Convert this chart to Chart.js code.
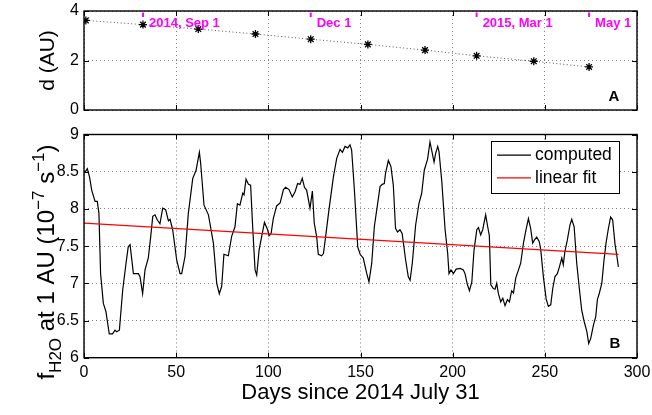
<!DOCTYPE html>
<html>
<script src="https://cdn.jsdelivr.net/npm/chart.js@4.4.0/dist/chart.umd.min.js"></script>
<body style="margin:0;background:#fff">
<div style="position:relative;width:652px;height:415px">
<canvas id="chartA" width="652" height="125" style="position:absolute;left:0;top:0"></canvas>
<canvas id="chartB" width="652" height="290" style="position:absolute;left:0;top:125px"></canvas>
</div>
<script>
// panel A: heliocentric distance on the 1st of each month
const monthDays = [1, 32, 62, 93, 123, 154, 185, 213, 244, 274];
const distAU = [3.62, 3.45, 3.27, 3.07, 2.86, 2.65, 2.42, 2.19, 1.97, 1.74];
const dateMarks = [32, 123, 213, 274];
const dateLabels = ["2014, Sep 1", "Dec 1", "2015, Mar 1", "May 1"];

// panel B: production rate at 1 AU
const days = [0.5, 1.8, 3, 4.2, 6, 7.2, 8.1, 9, 10.5, 11.9, 13.7, 15.5, 16.8, 17.7, 19.2, 21, 22.8, 24, 25, 26.8,
  29.5, 30.4, 31.8, 33.1, 34.9, 36.2, 37.3, 38.5, 39.8, 41.2, 42.7, 44.3, 45.8, 46.7, 48.1, 50.3, 52.1, 53, 54.8, 56.6,
  59, 60.8, 62.6, 63.3, 65.1, 67.5, 70.2, 72, 73.4, 74.7, 75.9, 78.3, 80.1, 81.9, 83.2, 84.6, 86.1, 86.8, 87.9, 89.2,
  90.4, 91.5, 92.8, 93.7, 95, 96.4, 97.9, 99.6, 100.4, 101.5, 102.7, 104.5, 106.4, 108.2, 109.4, 111.2, 113, 114.5, 115.9, 117.2,
  118.4, 119.6, 120.8, 122.6, 123.9, 124.9, 126.2, 127.1, 128.9, 129.9, 131.1, 132.9, 135.3, 137.1, 138.9, 140.2, 141.6, 143.1, 144.3, 145.2,
  146.7, 148.5, 149.8, 151.5, 153.4, 154.6, 156.1, 157.5, 159.3, 160.6, 161.8, 162.9, 163.6, 165.1, 166.5, 167.8, 169, 170.1, 171.4, 172.6,
  174.5, 175.9, 176.9, 178.1, 179.9, 181.7, 183.2, 184.6, 186.4, 187.7, 188.6, 189.9, 190.8, 191.9, 192.6, 194.1, 195.9, 197.3, 198, 199.1,
  200.4, 201.9, 204.1, 205.8, 206.7, 208, 209.1, 210.4, 211.6, 213.1, 214, 215.2, 216.3, 217.9, 219, 219.9, 220.7, 222.1, 223, 223.9,
  224.8, 226.1, 227.2, 228.4, 229.7, 230.8, 232, 233, 234.2, 235.7, 236.9, 238.4, 239.8, 241.1, 242.3, 243.4, 244.3, 245.6, 247, 247.8,
  249.2, 250.7, 251.9, 253.2, 254.3, 255.5, 256.8, 257.9, 259.2, 260, 260.9, 262.2, 263.6, 264.6, 265.9, 267.3, 268.8, 270, 271.3, 272.8,
  273.8, 274.9, 276.4, 277.6, 278.5, 279.6, 280.9, 282.1, 283.2, 284.5, 285.7, 286.8, 288.1, 289, 289.9];
const flux = [8.49, 8.54, 8.43, 8.25, 8.10, 8.10, 7.94, 7.13, 6.73, 6.62, 6.32, 6.32, 6.37, 6.35, 6.37, 6.91, 7.27, 7.49, 7.52, 7.13,
  7.13, 7.09, 6.86, 7.18, 7.34, 7.63, 7.90, 7.92, 7.85, 7.80, 8.01, 7.99, 7.84, 7.86, 7.72, 7.31, 7.13, 7.13, 7.36, 7.94,
  8.41, 8.52, 8.76, 8.61, 8.05, 7.92, 7.54, 7.00, 6.86, 6.96, 7.39, 7.37, 7.63, 7.76, 8.07, 8.05, 8.21, 8.19, 8.40, 8.33,
  8.32, 7.76, 7.18, 7.11, 7.45, 7.63, 7.82, 7.72, 7.64, 7.67, 7.87, 8.04, 8.08, 8.26, 8.29, 8.26, 8.16, 8.23, 8.34, 8.33,
  8.41, 8.29, 8.25, 8.01, 8.24, 7.81, 7.63, 7.39, 7.37, 7.40, 7.63, 7.99, 8.43, 8.68, 8.80, 8.76, 8.84, 8.82, 8.86, 8.79,
  8.25, 7.49, 7.39, 7.34, 7.13, 7.02, 7.27, 7.76, 8.07, 8.30, 8.33, 8.34, 8.48, 8.65, 8.57, 8.32, 7.74, 7.69, 7.72, 7.67,
  7.31, 7.09, 7.04, 7.27, 7.78, 8.07, 8.21, 8.52, 8.67, 8.90, 8.79, 8.63, 8.75, 8.84, 8.77, 8.37, 7.72, 7.40, 7.13, 7.18,
  7.13, 7.19, 7.20, 7.18, 7.13, 6.98, 6.90, 7.02, 7.45, 7.72, 7.75, 7.65, 7.72, 7.92, 7.76, 7.64, 6.98, 6.93, 6.92, 7.00,
  6.86, 6.75, 6.80, 6.70, 6.78, 6.75, 6.90, 6.87, 7.07, 7.18, 7.27, 7.54, 7.72, 7.87, 7.74, 7.54, 7.58, 7.62, 7.56, 7.45,
  7.09, 6.79, 6.69, 6.71, 6.93, 7.09, 7.13, 7.22, 7.34, 7.25, 7.43, 7.58, 7.78, 7.86, 7.76, 7.27, 6.91, 6.64, 6.49, 6.35,
  6.19, 6.26, 6.44, 6.55, 6.78, 6.87, 7.00, 7.31, 7.54, 7.74, 7.89, 7.85, 7.52, 7.38, 7.22];
const fitDays = [0, 290];
const fitFlux = [7.81, 7.39];

const FONT = "'Liberation Sans', Arial, Helvetica, sans-serif";
Chart.defaults.font.family = FONT;
Chart.defaults.font.size = 16;
Chart.defaults.color = "#000";
Chart.defaults.animation = false;

const gridColor = "rgba(0,0,0,0.5)";

function xScale(showTicks) {
  return {
    type: "linear", min: 0, max: 300,
    ticks: { display: showTicks, stepSize: 50, padding: 5, maxRotation: 0 },
    grid: { color: gridColor, lineWidth: 1, drawTicks: false },
    border: { display: false, dash: [1, 3] },
    afterFit: s => {
      s.height = showTicks ? 57.3 : 0;
      s.paddingLeft = 0; s.paddingRight = 0;
    }
  };
}
function yScale(min, max, step) {
  return {
    min: min, max: max,
    ticks: { stepSize: step, padding: 5, callback: v => String(v) },
    grid: { color: gridColor, lineWidth: 1, drawTicks: false },
    border: { display: false, dash: [1, 3] },
    afterFit: s => {
      s.width = 84;
      s.paddingTop = 0; s.paddingBottom = 0;
    }
  };
}

// box + inward ticks like matlab
function drawFrame(chart) {
  const ctx = chart.ctx, a = chart.chartArea;
  const sx = chart.scales.x, sy = chart.scales.y;
  ctx.save();
  ctx.strokeStyle = "#000";
  ctx.lineWidth = 1;
  ctx.beginPath();
  sx.ticks.forEach(t => {
    const px = Math.round(sx.getPixelForValue(t.value)) + 0.5;
    ctx.moveTo(px, a.bottom); ctx.lineTo(px, a.bottom - 5);
    ctx.moveTo(px, a.top); ctx.lineTo(px, a.top + 5);
  });
  sy.ticks.forEach(t => {
    const py = Math.round(sy.getPixelForValue(t.value)) + 0.5;
    ctx.moveTo(a.left, py); ctx.lineTo(a.left + 5, py);
    ctx.moveTo(a.right, py); ctx.lineTo(a.right - 5, py);
  });
  ctx.stroke();
  ctx.lineWidth = 1.4;
  ctx.strokeRect(a.left, a.top, a.right - a.left, a.bottom - a.top);
  ctx.restore();
}

const panelA = {
  id: "panelA",
  afterDraw(chart) {
    const ctx = chart.ctx, a = chart.chartArea, sx = chart.scales.x;
    drawFrame(chart);
    ctx.save();
    ctx.fillStyle = "#ff00ff";
    ctx.strokeStyle = "#ff00ff";
    ctx.lineWidth = 2;
    ctx.font = "bold 13px " + FONT;
    ctx.textBaseline = "middle";
    dateMarks.forEach((d, i) => {
      const px = sx.getPixelForValue(d);
      ctx.beginPath();
      ctx.moveTo(px, a.top + 1.5); ctx.lineTo(px, a.top + 6);
      ctx.stroke();
      ctx.fillText(dateLabels[i], px + 6, a.top + 12);
    });
    ctx.fillStyle = "#000";
    ctx.font = "bold 15px " + FONT;
    ctx.textAlign = "center";
    ctx.fillText("A", a.right - 23, a.bottom - 13);
    ctx.font = "21px " + FONT;
    ctx.translate(48, (a.top + a.bottom) / 2);
    ctx.rotate(-Math.PI / 2);
    ctx.fillText("d (AU)", 0, 0);
    ctx.restore();
  }
};

const panelB = {
  id: "panelB",
  afterDraw(chart) {
    const ctx = chart.ctx, a = chart.chartArea;
    drawFrame(chart);
    ctx.save();
    // legend
    const lx = a.right - 146, ly = a.top + 6.5, lw = 128, lh = 52;
    ctx.fillStyle = "#fff";
    ctx.fillRect(lx, ly, lw, lh);
    ctx.strokeStyle = "#000";
    ctx.lineWidth = 1;
    ctx.strokeRect(lx + 0.5, ly + 0.5, lw, lh);
    ctx.font = "17.5px " + FONT;
    ctx.textBaseline = "middle";
    [["computed", "#000", 14.2], ["linear fit", "#ff0000", 36.8]].forEach(([txt, col, dy]) => {
      ctx.strokeStyle = col;
      ctx.lineWidth = 1.2;
      ctx.beginPath();
      ctx.moveTo(lx + 6, ly + dy); ctx.lineTo(lx + 40, ly + dy);
      ctx.stroke();
      ctx.fillStyle = "#000";
      ctx.fillText(txt, lx + 44, ly + dy);
    });
    ctx.font = "bold 15px " + FONT;
    ctx.textAlign = "center";
    ctx.fillText("B", a.right - 22, a.bottom - 14);
    // x title
    ctx.font = "22px " + FONT;
    ctx.fillText("Days since 2014 July 31", (a.left + a.right) / 2, a.bottom + 35);
    // y title with sub/superscripts
    const big = "24px " + FONT, small = "17px " + FONT;
    const parts = [
      ["f", big, 0], ["H2O", small, 7], [" at 1 AU (10", big, 0], ["\u22127", small, -10],
      [" s", big, 0], ["\u22121", small, -10], [")", big, 0]
    ];
    ctx.textAlign = "left";
    ctx.textBaseline = "alphabetic";
    let total = 0;
    parts.forEach(p => { ctx.font = p[1]; total += ctx.measureText(p[0]).width; });
    ctx.translate(54, 137);
    ctx.rotate(-Math.PI / 2);
    let x = -total / 2;
    parts.forEach(p => {
      ctx.font = p[1];
      ctx.fillText(p[0], x, p[2]);
      x += ctx.measureText(p[0]).width;
    });
    ctx.restore();
  }
};

new Chart(document.getElementById("chartA"), {
  type: "line",
  data: {
    datasets: [{
      data: monthDays.map((d, i) => ({ x: d, y: distAU[i] })),
      borderColor: "#555",
      borderWidth: 1,
      borderDash: [1, 2.5],
      pointStyle: "star",
      pointRadius: 4,
      pointBorderColor: "#000",
      pointBorderWidth: 1.3,
      tension: 0
    }]
  },
  options: {
    responsive: false,
    layout: { padding: { left: 0, right: 15, top: 11, bottom: 15 } },
    plugins: { legend: { display: false }, tooltip: { enabled: false } },
    scales: { x: xScale(false), y: yScale(0, 4, 2) }
  },
  plugins: [panelA]
});

new Chart(document.getElementById("chartB"), {
  type: "line",
  data: {
    datasets: [{
      label: "linear fit",
      data: fitDays.map((d, i) => ({ x: d, y: fitFlux[i] })),
      borderColor: "#ff0000",
      borderWidth: 1.2,
      pointRadius: 0
    }, {
      label: "computed",
      data: days.map((d, i) => ({ x: d, y: flux[i] })),
      borderColor: "#000",
      borderWidth: 1.2,
      pointRadius: 0,
      tension: 0
    }]
  },
  options: {
    responsive: false,
    layout: { padding: { left: 0, right: 15, top: 9.5, bottom: 0 } },
    plugins: { legend: { display: false }, tooltip: { enabled: false } },
    scales: { x: xScale(true), y: yScale(6, 9, 0.5) }
  },
  plugins: [panelB]
});
</script>
</body>
</html>
